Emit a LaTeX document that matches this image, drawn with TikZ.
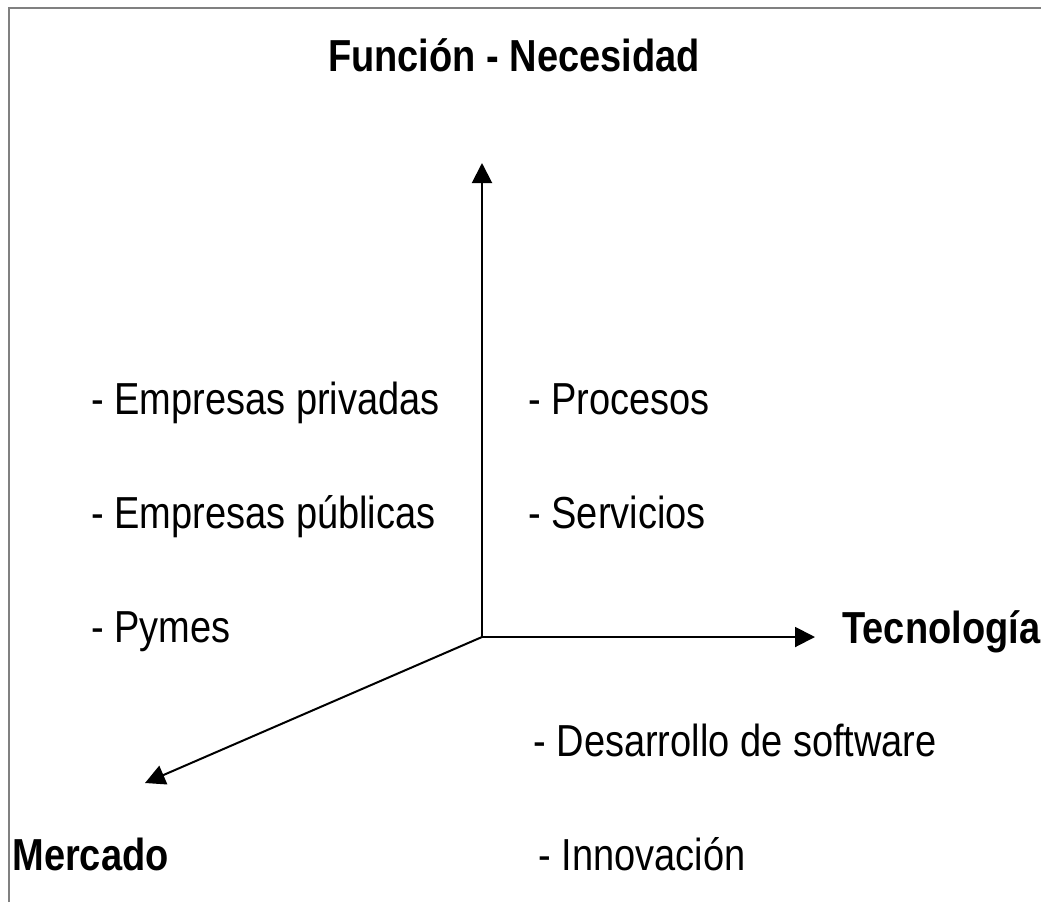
\documentclass[tikz,border=0pt]{standalone}
\usepackage{fontspec}
\setmainfont{Liberation Sans}
\usetikzlibrary{arrows.meta}
\usetikzlibrary{positioning}

\tikzset{
  axis/.style={line width=1pt,-{Triangle[length=10pt,width=10pt]}},
  item/.style={anchor=base west,inner sep=0pt,yscale=1.18,transform shape,
    font=\fontsize{19}{22}\selectfont},
  axislabel/.style={inner sep=0pt,yscale=1.18,transform shape,
    font=\fontsize{19}{22}\selectfont\bfseries}
}

\begin{document}
\begin{tikzpicture}[x=0.5pt,y=-0.5pt]
\useasboundingbox (0,0) rectangle (1041,902);
\fill[white] (0,0) rectangle (1041,902);
\draw[line width=0.75pt,gray] (9,902) -- (9,8) -- (1041,8);

\coordinate (o) at (482,637);
\coordinate (fn) at (482,163);
\coordinate (tec) at (815,637);
\coordinate (mer) at (145,783);

\path (514,71) node[axislabel,anchor=base] (funcion) {Función - Necesidad};
\path (842,643) node[axislabel,anchor=base west] (tecnologia) {Tecnología};
\path (12,870) node[axislabel,anchor=base west] (mercado) {Mercado};

\draw[axis] (o) -- (fn);
\draw[axis] (o) -- (tec);
\draw[axis] (o) -- (mer);

\path (91,414) node[item] (priv) {- Empresas privadas};
\path (91,528) node[item] (pub) {- Empresas públicas};
\path (91,642) node[item] (pymes) {- Pymes};
\path (528,414) node[item] (proc) {- Procesos};
\path (528,528) node[item] (serv) {- Servicios};
\path (533,756) node[item] (soft) {- Desarrollo de software};
\path (538,870) node[item] (innov) {- Innovación};
\end{tikzpicture}
\end{document}
